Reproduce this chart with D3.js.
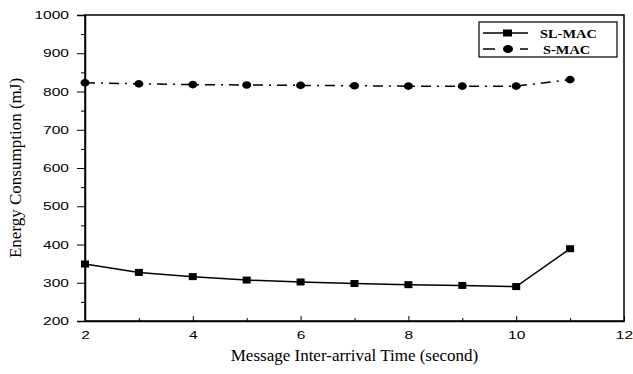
<!DOCTYPE html>
<html><head><meta charset="utf-8">
<script src="https://cdn.jsdelivr.net/npm/d3@7"></script>
<style>body{margin:0;background:#fff}svg{display:block}</style>
</head><body>
<script>
const xValues = [2, 3, 4, 5, 6, 7, 8, 9, 10, 11];
const slMac = [349, 327, 316, 307, 302, 298, 295, 293, 290, 389];
const sMac = [823, 820, 818, 817, 816, 815, 814, 814, 814, 831];
const seriesNames = ["SL-MAC", "S-MAC"];
const xTicks = [2, 4, 6, 8, 10, 12];
const yTicks = [200, 300, 400, 500, 600, 700, 800, 900, 1000];

const W = 633, H = 374;
const m = {l: 85, r: 9, t: 15, b: 53};
const svg = d3.select("body").append("svg").attr("width", W).attr("height", H);
const x = d3.scaleLinear().domain([2, 12]).range([m.l, W - m.r]);
const y = d3.scaleLinear().domain([200, 1000]).range([H - m.b, m.t]);
const SANS = "Liberation Sans, Arial, sans-serif";
const SERIF = "Liberation Serif, Times New Roman, serif";

// frame
svg.append("rect").attr("x", m.l).attr("y", m.t).attr("width", W - m.r - m.l).attr("height", H - m.b - m.t)
  .attr("fill", "none").attr("stroke", "#000").attr("stroke-width", 1.5);

// y axis
const yAx = svg.append("g").attr("transform", `translate(${m.l},0)`)
  .call(d3.axisLeft(y).tickValues(yTicks).tickSize(8).tickPadding(8).tickFormat(d3.format("d")));
yAx.select(".domain").attr("stroke-width", 1.5);
yAx.selectAll("text").each(function () {
  const t = d3.select(this); const tx = +t.attr("x");
  t.attr("x", 0).attr("transform", `translate(${tx},0) scale(1.35,1)`);
}).attr("font-family", SANS).attr("font-size", 11.5).attr("fill", "#000");
svg.append("g").attr("transform", `translate(${m.l},0)`)
  .call(d3.axisLeft(y).tickValues(d3.range(250, 1000, 100)).tickSize(4).tickFormat(""))
  .select(".domain").remove();

// x axis (ticks inward)
const xAx = svg.append("g").attr("transform", `translate(0,${H - m.b})`)
  .call(d3.axisBottom(x).tickValues(xTicks).tickSizeInner(-5).tickSizeOuter(0).tickPadding(10).tickFormat(d3.format("d")));
xAx.select(".domain").attr("stroke-width", 1.5);
xAx.selectAll("text").attr("transform", "scale(1.35,1)")
  .attr("font-family", SANS).attr("font-size", 11.5).attr("fill", "#000");
svg.append("g").attr("transform", `translate(0,${H - m.b})`)
  .call(d3.axisBottom(x).tickValues([3, 5, 7, 9, 11]).tickSizeInner(-3).tickSizeOuter(0).tickFormat(""))
  .select(".domain").remove();

// titles
svg.append("text").attr("x", (m.l + W - m.r) / 2).attr("y", 361).attr("text-anchor", "middle")
  .attr("font-family", SERIF).attr("font-size", 17).text("Message Inter-arrival Time (second)");
svg.append("text").attr("transform", `translate(21,${(m.t + H - m.b) / 2}) rotate(-90)`).attr("text-anchor", "middle")
  .attr("font-family", SERIF).attr("font-size", 17).text("Energy Consumption (mJ)");

// lines
const line = d3.line().x(d => x(d[0])).y(d => y(d[1]));
const d1 = xValues.map((v, i) => [v, slMac[i]]);
const d2 = xValues.map((v, i) => [v, sMac[i]]);
svg.append("path").datum(d1).attr("d", line).attr("fill", "none").attr("stroke", "#000").attr("stroke-width", 1.5);
svg.append("path").datum(d2).attr("d", line).attr("fill", "none").attr("stroke", "#000").attr("stroke-width", 1.5)
  .attr("stroke-dasharray", "10,6,2,6");
svg.selectAll(".sq").data(d1).enter().append("rect")
  .attr("x", d => x(d[0]) - 4).attr("y", d => y(d[1]) - 3.5).attr("width", 8).attr("height", 7).attr("fill", "#000");
svg.selectAll(".ci").data(d2).enter().append("ellipse")
  .attr("cx", d => x(d[0])).attr("cy", d => y(d[1])).attr("rx", 4.5).attr("ry", 3.8).attr("fill", "#000");

// legend
const lg = svg.append("g");
lg.append("rect").attr("x", 479).attr("y", 22).attr("width", 138).attr("height", 35)
  .attr("fill", "#fff").attr("stroke", "#000").attr("stroke-width", 1.2);
lg.append("line").attr("x1", 483).attr("x2", 528).attr("y1", 33).attr("y2", 33).attr("stroke", "#000").attr("stroke-width", 1.5);
lg.append("rect").attr("x", 503).attr("y", 29.5).attr("width", 9).attr("height", 7).attr("fill", "#000");
lg.append("line").attr("x1", 483).attr("x2", 528).attr("y1", 49).attr("y2", 49).attr("stroke", "#000").attr("stroke-width", 1.5)
  .attr("stroke-dasharray", "12,25,8,0");
lg.append("ellipse").attr("cx", 508).attr("cy", 49).attr("rx", 5).attr("ry", 4).attr("fill", "#000");
lg.selectAll(".lt").data(seriesNames).enter().append("text")
  .attr("transform", (d, i) => `translate(${i === 0 ? 540 : 543},${37.5 + i * 16}) scale(1.2,1)`)
  .attr("font-family", SERIF).attr("font-weight", "bold").attr("font-size", 12).text(d => d);
</script>
</body></html>
